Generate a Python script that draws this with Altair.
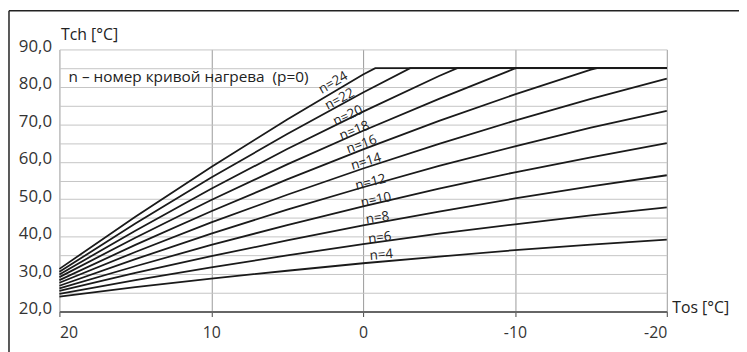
import altair as alt
import pandas as pd

# Outdoor temperature points (Tos, °C)
tos = [20, 15, 10, 5, 0, -5, -10, -15, -20]

# Heating curves: flow temperature Tch (°C) read at the Tos points above
curve_n4 = [24.0, 26.5, 28.8, 30.9, 32.9, 34.7, 36.4, 37.9, 39.2]
curve_n6 = [24.7, 28.4, 31.8, 35.0, 38.0, 40.8, 43.3, 45.7, 47.8]
curve_n8 = [25.5, 30.3, 34.8, 39.0, 43.0, 46.7, 50.2, 53.4, 56.4]
curve_n10 = [26.2, 32.1, 37.8, 43.1, 48.1, 52.8, 57.2, 61.2, 65.0]
curve_n12 = [26.9, 34.0, 40.8, 47.2, 53.2, 58.9, 64.1, 69.1, 73.6]
curve_n14 = [27.7, 35.9, 43.8, 51.2, 58.2, 64.8, 71.0, 76.8, 82.2]
curve_n16 = [28.4, 37.8, 46.8, 55.3, 63.3, 70.9, 78.0, 84.6]
curve_n18 = [29.2, 39.7, 49.8, 59.3, 68.3, 76.8, 84.9]
curve_n20 = [29.9, 41.6, 52.8, 63.4, 73.4, 82.9]
curve_n22 = [30.6, 43.5, 55.8, 67.4, 78.5]
curve_n24 = [31.4, 45.3, 58.6, 71.3, 83.3]

curve_ids = [4, 6, 8, 10, 12, 14, 16, 18, 20, 22, 24]
curve_vals = [curve_n4, curve_n6, curve_n8, curve_n10, curve_n12, curve_n14,
              curve_n16, curve_n18, curve_n20, curve_n22, curve_n24]
# Tos where a curve reaches the 85 °C limit (None = never)
cap_tos = [None, None, None, None, None, None, -15.4, -10.1, -6.2, -3.1, -0.8]
cap_value = 85.0

# Curve labels
label_text = ["n=24", "n=22", "n=20", "n=18", "n=16", "n=14",
              "n=12", "n=10", "n=8", "n=6", "n=4"]
label_tos = [1.97, 1.54, 1.0, 0.57, 0.1, -0.2, -0.5, -0.85, -0.95, -1.1, -1.2]
label_tch = [81.1, 76.7, 72.3, 68.3, 64.6, 60.0, 54.5, 49.8, 45.0, 39.7, 35.1]
label_angle = [330, 332, 335, 338, 340, 343, 346, 348, 351, 353, 355]

note_text = "n – номер кривой нагрева\u00a0 (p=0)"
note_tos = [19.4]
note_tch = [82.6]

y_ticks = [20, 25, 30, 35, 40, 45, 50, 55, 60, 65, 70, 75, 80, 85, 90]
x_ticks = [20, 10, 0, -10, -20]

rows = []
for n, vals, cap in zip(curve_ids, curve_vals, cap_tos):
    for t, v in zip(tos, vals):
        rows.append({"n": n, "tos": t, "tch": v})
    if cap is not None:
        rows.append({"n": n, "tos": cap, "tch": cap_value})
        rows.append({"n": n, "tos": tos[-1], "tch": cap_value})
df = pd.DataFrame(rows)

labels_df = pd.DataFrame({"text": label_text, "tos": label_tos,
                          "tch": label_tch, "ang": label_angle})
note_df = pd.DataFrame({"text": [note_text], "tos": note_tos, "tch": note_tch})

W, H = 614, 265

x_scale = alt.Scale(domain=[-20, 20], reverse=True, nice=False, zero=False)
y_scale = alt.Scale(domain=[20, 90], nice=False, zero=False)

x_axis = alt.Axis(
    values=x_ticks,
    labelExpr="'' + datum.value",
    labelOverlap=False,
    title="Tos [°C]", titleX=W + 5, titleY=-4, titleAlign="left",
    titleBaseline="middle", titleAngle=0, titleFontSize=16,
    titleFontWeight="normal", titleColor="#222",
    grid=True, gridColor="#9a9a9a", gridWidth=1,
    domainColor="#666", domainWidth=2,
    tickColor="#444", tickSize=5, tickWidth=1,
    labelFontSize=16, labelColor="#333", labelPadding=8,
)
y_axis = alt.Axis(
    values=y_ticks,
    labelExpr="datum.value % 10 == 0 ? replace(format(datum.value, '.1f'), '.', ',') : ''",
    labelOverlap=False,
    title="Tch [°C]", titleX=1, titleY=-15, titleAlign="left",
    titleBaseline="middle", titleAngle=0, titleFontSize=16,
    titleFontWeight="normal", titleColor="#222",
    grid=True, gridColor="#c4c4c4", gridWidth=1,
    domain=False, ticks=False, tickSize=0,
    labelFontSize=17, labelColor="#333", labelPadding=8, labelOffset=-3,
)

X = alt.X("tos:Q", scale=x_scale, axis=x_axis)
Y = alt.Y("tch:Q", scale=y_scale, axis=y_axis)

lines = alt.Chart(df).mark_line(color="#1a1a1a", strokeWidth=1.8).encode(
    x=X, y=Y,
    detail="n:N",
    order=alt.Order("tos:Q", sort="descending"),
)

labels = alt.Chart(labels_df).mark_text(
    fontSize=13.5, color="#222", align="center", baseline="middle"
).encode(
    x=X, y=Y,
    text="text:N",
    angle=alt.Angle("ang:Q", scale=None),
)

note = alt.Chart(note_df).mark_text(
    fontSize=15.5, color="#222", align="left", baseline="middle"
).encode(
    x=X, y=Y,
    text="text:N",
)

frame_df = pd.DataFrame({"a": [0]})
left_border = alt.Chart(frame_df).mark_rule(color="#222", strokeWidth=1.5).encode(
    x=alt.value(-51), y=alt.value(-39), y2=alt.value(H + 60)
)
top_border = alt.Chart(frame_df).mark_rule(color="#222", strokeWidth=1.5).encode(
    x=alt.value(-51), x2=alt.value(W + 80), y=alt.value(-39)
)

chart = alt.layer(lines, labels, note, left_border, top_border).properties(
    width=W, height=H,
    padding={"left": 52, "top": 40, "right": 73, "bottom": 39},
    autosize=alt.AutoSizeParams(type="none"),
).configure(font="Open Sans").configure_view(stroke=None)

chart.save("out.html", embed_options={"renderer": "svg", "actions": False})
